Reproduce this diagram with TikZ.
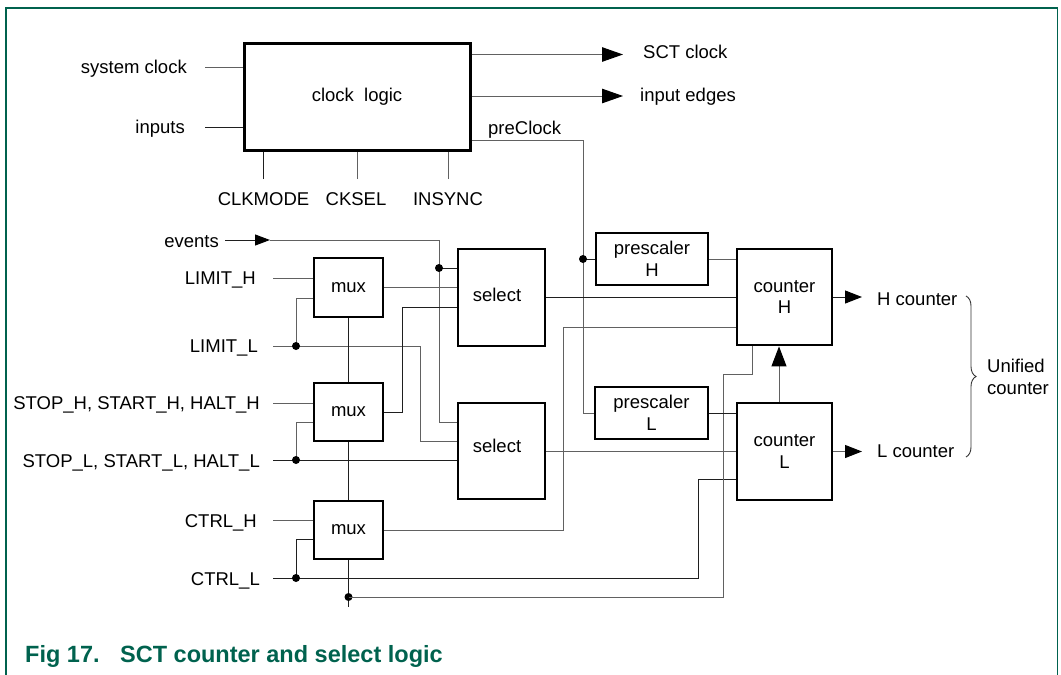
\documentclass[tikz,border=0pt]{standalone}
\usepackage{fontspec}
\setmainfont{Liberation Sans}
\usetikzlibrary{arrows.meta,decorations.pathreplacing,calc}
\definecolor{nxpgreen}{RGB}{0,98,78}
\begin{document}
\begin{tikzpicture}[x=1pt,y=-1pt,
  font=\fontsize{18.5}{21.5}\selectfont,
  blk/.style={draw=black,line width=2.8pt,fill=white,inner sep=0pt,align=center},
  wire/.style={draw=black!62,line width=1pt},
  dark/.style={draw=black!88},
  lbl/.style={inner sep=0pt},
  dot/.style={fill=black},
  bigarr/.style={wire,-{Triangle[length=21pt,width=14.5pt,black]}},
  evarr/.style={wire,-{Triangle[length=15pt,width=11pt,black]}},
  outarr/.style={wire,-{Triangle[length=17pt,width=13pt,black]}},
  uparr/.style={wire,-{Triangle[length=20pt,width=15pt,black]}}
]
\useasboundingbox (0,0) rectangle (1061,675);
\draw[nxpgreen,line width=1.5pt] (6,8) rectangle (1057.5,720);

% ---------- blocks ----------
\node[blk,line width=3pt,minimum width=226pt,minimum height=107pt] (clk) at (357,96.5) {clock\ \ logic};
\node[blk,minimum width=69pt,minimum height=59pt] (mux1) at (348.5,287.5) {mux};
\node[blk,minimum width=69pt,minimum height=58pt] (mux2) at (348.5,412) {mux};
\node[blk,minimum width=69pt,minimum height=58pt] (mux3) at (348.5,530) {mux};
\node[blk,minimum width=87pt,minimum height=97pt] (selH) at (501.5,297.5) {};
\node[blk,minimum width=87pt,minimum height=96pt] (selL) at (501.5,451) {};
\node[lbl] (selHt) at (497,295) {select};
\node[lbl] (selLt) at (497,446) {select};
\node[blk,minimum width=112pt,minimum height=52pt] (preH) at (652,259) {prescaler\\H};
\node[blk,minimum width=113pt,minimum height=52pt] (preL) at (651.5,413) {prescaler\\L};
\node[blk,minimum width=95pt,minimum height=96pt] (cntH) at (784.5,297) {counter\\H};
\node[blk,minimum width=95pt,minimum height=97pt] (cntL) at (784.5,451.5) {counter\\L};

% ---------- clock logic connections ----------
\coordinate (sysclk) at (205,67.5);
\coordinate (inp) at (205,127);
\draw[wire] (sysclk) -- (sysclk -| clk.west);
\draw[wire,dark] (inp) -- (inp -| clk.west);
\node[lbl,anchor=base east] (tsys) at (187,73) {system clock};
\node[lbl,anchor=base east] (tinp) at (185,133) {inputs};

\coordinate (ckm) at (263.5,179);
\coordinate (cks) at (357,179);
\coordinate (ins) at (448,179);
\draw[wire,dark] (ckm) -- (ckm |- clk.south);
\draw[wire] (cks) -- (cks |- clk.south);
\draw[wire] (ins) -- (ins |- clk.south);
\node[lbl,anchor=base] (tckm) at (263.5,205) {CLKMODE};
\node[lbl,anchor=base] (tcks) at (356,205) {CKSEL};
\node[lbl,anchor=base] (tins) at (448,205) {INSYNC};

\coordinate (sctT) at (623,54.5);
\coordinate (ieT) at (623,96);
\draw[bigarr] (sctT -| clk.east) -- (sctT);
\draw[bigarr] (ieT -| clk.east) -- (ieT);
\node[lbl,anchor=base west] (tsct) at (643,58) {SCT clock};
\node[lbl,anchor=base west] (tie) at (640,101) {input edges};

\coordinate (pcT) at (583,140);
\coordinate (pcD) at (583,259);
\draw[wire] (pcT -| clk.east) -- (pcT) -- (pcT |- preL.west) -- (preL.west);
\draw[wire,dark] (pcD) -- (preH.west);
\fill[dot] (pcD) circle (4pt);
\node[lbl,anchor=base west] (tpc) at (488,134) {preClock};

% ---------- events ----------
\coordinate (evS) at (225,240);
\coordinate (evA) at (270,240);
\coordinate (evX) at (439,240);
\coordinate (evL) at (439,422);
\coordinate (evD) at (439,268);
\draw[evarr,dark] (evS) -- (evA);
\draw[wire] (evA) -- (evX) -- (evL) -- (evL -| selL.west);
\draw[wire,dark] (evD) -- (evD -| selH.west);
\fill[dot] (evD) circle (4pt);
\node[lbl,anchor=base east] (tev) at (219,247) {events};

% ---------- LIMIT ----------
\coordinate (limH) at (273,278);
\draw[wire] (limH) -- (limH -| mux1.west);
\coordinate (limL) at (273,346);
\coordinate (limLd) at (296,346);
\coordinate (m1b) at (296,298);
\coordinate (limLj) at (420,346);
\coordinate (limLk) at (420,441);
\draw[wire] (limL) -- (limLj) -- (limLk) -- (limLk -| selL.west);
\draw[wire] (limLd) -- (m1b) -- (m1b -| mux1.west);
\fill[dot] (limLd) circle (4pt);
\node[lbl,anchor=base east] (tlimH) at (256,284) {LIMIT\_H};
\node[lbl,anchor=base east] (tlimL) at (258,352) {LIMIT\_L};

% ---------- STOP/START/HALT ----------
\coordinate (stH) at (273,403);
\draw[wire] (stH) -- (stH -| mux2.west);
\coordinate (stL) at (273,460);
\coordinate (stLd) at (296,460);
\coordinate (m2b) at (296,422);
\draw[wire,dark] (stL) -- (stL -| selL.west);
\draw[wire] (stLd) -- (m2b) -- (m2b -| mux2.west);
\fill[dot] (stLd) circle (4pt);
\node[lbl,anchor=base east] (tstH) at (260,409) {STOP\_H, START\_H, HALT\_H};
\node[lbl,anchor=base east] (tstL) at (260,467) {STOP\_L, START\_L, HALT\_L};

% ---------- CTRL ----------
\coordinate (ctH) at (273,520);
\draw[wire] (ctH) -- (ctH -| mux3.west);
\coordinate (ctL) at (273,578);
\coordinate (ctLd) at (296,578);
\coordinate (m3b) at (296,539);
\coordinate (ctLj) at (698,578);
\coordinate (ctLk) at (698,479);
\draw[wire,dark] (ctL) -- (ctLj) -- (ctLk) -- (ctLk -| cntL.west);
\draw[wire,dark] (ctLd) -- (m3b) -- (m3b -| mux3.west);
\fill[dot] (ctLd) circle (4pt);
\node[lbl,anchor=base east] (tctH) at (257,527) {CTRL\_H};
\node[lbl,anchor=base east] (tctL) at (260,585) {CTRL\_L};

% ---------- mux chain ----------
\draw[wire,dark] (mux1.south) -- (mux2.north);
\draw[wire,dark] (mux2.south) -- (mux3.north);
\coordinate (bot) at (348.5,607);
\coordinate (bd) at (348.5,597);
\draw[wire,dark] (mux3.south) -- (bot);
\fill[dot] (bd) circle (4pt);
\coordinate (bj1) at (723,597);
\coordinate (bj2) at (723,374);
\coordinate (bj3) at (752,374);
\draw[wire] (bd) -- (bj1) -- (bj2) -- (bj3) -- (bj3 |- cntH.south);

% mux outputs
\draw[wire] (mux1.east) -- (mux1.east -| selH.west);
\coordinate (m2j) at (402,307);
\draw[wire,dark] (mux2.east) -- (mux2.east -| m2j) -- (m2j) -- (m2j -| selH.west);
\coordinate (m3j) at (563,327);
\draw[wire] (mux3.east) -- (mux3.east -| m3j) -- (m3j) -- (m3j -| cntH.west);

% select / prescaler to counters
\draw[wire,dark] (selH.east) -- (selH.east -| cntH.west);
\draw[wire] (selL.east) -- (selL.east -| cntL.west);
\draw[wire] (preH.east) -- (preH.east -| cntH.west);
\draw[wire,dark] (preL.east) -- (preL.east -| cntL.west);

% carry arrow
\draw[uparr] ([xshift=-5.5pt]cntL.north) -- ([xshift=-5.5pt]cntH.south);

% outputs
\coordinate (hOut) at (862,297);
\coordinate (lOut) at (862,451.5);
\draw[outarr,dark] (cntH.east) -- (hOut);
\draw[outarr] (cntL.east) -- (lOut);
\node[lbl,anchor=base west] (tHc) at (877,305.5) {H counter};
\node[lbl,anchor=base west] (tLc) at (877,457) {L counter};

\coordinate (brT) at (966,296);
\coordinate (brB) at (966,457);
\draw[black!80,line width=0.9pt,decorate,decoration={brace,amplitude=10pt}] (brT) -- (brB);
\node[lbl,align=left,anchor=west] (tuni) at (987,377) {Unified\\counter};

% caption
\node[lbl,anchor=base west,text=nxpgreen,font=\fontsize{23.5}{27}\selectfont\bfseries] (cap1) at (25,662) {Fig 17.};
\node[lbl,anchor=base west,text=nxpgreen,font=\fontsize{23.5}{27}\selectfont\bfseries] (cap2) at (120,662) {SCT counter and select logic};
\end{tikzpicture}
\end{document}
